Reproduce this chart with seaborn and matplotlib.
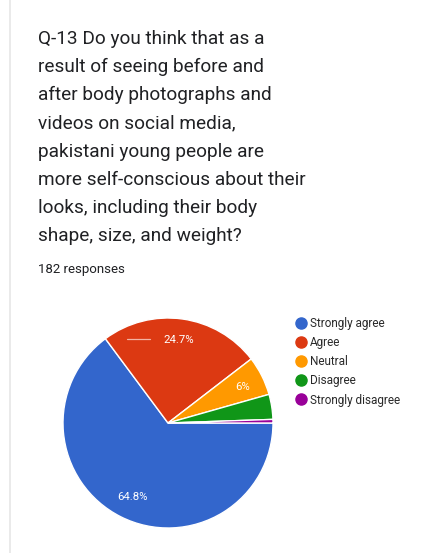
import matplotlib
matplotlib.use("Agg")
import matplotlib.pyplot as plt
from matplotlib.lines import Line2D
import seaborn as sns

# Survey results (182 responses)
categories = ["Strongly agree", "Agree", "Neutral", "Disagree", "Strongly disagree"]
counts = [118, 45, 11, 7, 1]
shown_labels = ["64.8%", "24.7%", "6%", "", ""]
colors = ["#3366cc", "#dc3912", "#ff9900", "#109618", "#990099"]

question_lines = [
    "Q-13 Do you think that as a",
    "result of seeing before and",
    "after body photographs and",
    "videos on social media,",
    "pakistani young people are",
    "more self-conscious about their",
    "looks, including their body",
    "shape, size, and weight?",
]
responses_text = "182 responses"

sns.set_theme(style="white")
plt.rcParams["font.family"] = ["Roboto", "DejaVu Sans"]

W, H = 439, 553
fig = plt.figure(figsize=(W / 100, H / 100), dpi=100)
fig.patch.set_facecolor("white")

# left card border
fig.add_artist(Line2D([10 / W, 10 / W], [0, 1], color="#e6e6e6", lw=1.2))

# question text
y0 = 39
for i, line in enumerate(question_lines):
    fig.text(38 / W, 1 - (y0 + i * 28.2) / H, line, fontsize=13.7,
             color="#202124", va="center", ha="left")
fig.text(38 / W, 1 - 269 / H, responses_text, fontsize=9.5,
         color="#202124", va="center", ha="left")

# pie
cx, cy, r = 168, 423, 105
ax = fig.add_axes([(cx - r) / W, (H - cy - r) / H, 2 * r / W, 2 * r / H])
wedges, _ = ax.pie(
    counts, colors=sns.color_palette(colors), startangle=0, counterclock=False,
    wedgeprops=dict(edgecolor="white", linewidth=1.0), radius=1.0,
)
ax.set_xlim(-1, 1)
ax.set_ylim(-1, 1)
ax.set_aspect("equal")
ax.axis("off")

# percentage labels in data coords of the pie
label_pos = {"64.8%": (-0.34, -0.70), "24.7%": (0.10, 0.79), "6%": (0.71, 0.34)}
for lab in shown_labels:
    if lab:
        x, y = label_pos[lab]
        ax.text(x, y, lab, color="white", fontsize=8.2, ha="center", va="center")
# short leader mark beside the 24.7% label
ax.plot([-0.39, -0.17], [0.80, 0.80], color="#f3b3a3", lw=0.9)

# legend
handles = [Line2D([0], [0], marker="o", linestyle="none", markersize=8,
                  markerfacecolor=c, markeredgecolor=c) for c in colors]
fig.legend(handles, categories, loc="upper left",
           bbox_to_anchor=(294 / W, 1 - 317 / H), frameon=False,
           fontsize=8.5, labelspacing=0.52, handletextpad=0.15,
           handlelength=1.2, borderaxespad=0, borderpad=0,
           labelcolor="#2a2a2a")

fig.savefig("out.png", dpi=100, facecolor="white")
